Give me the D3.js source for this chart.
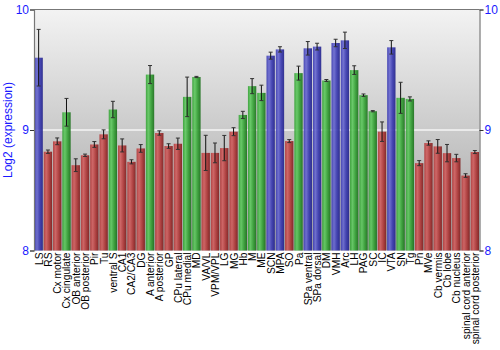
<!DOCTYPE html>
<html>
<head>
<meta charset="utf-8">
<script src="https://cdn.jsdelivr.net/npm/d3@7/dist/d3.min.js"></script>
<style>
  html, body { margin: 0; padding: 0; background: #ffffff; }
  svg { display: block; font-family: "Liberation Sans", Arial, sans-serif; }
</style>
</head>
<body>
<svg id="chart" width="500" height="350"></svg>
<script>
// Brain regions, mean log2 expression, error (±) and tissue group
const regions = ["LS","RS","Cx motor","Cx cingulate","OB anterior","OB posterior","Pir","Tu",
  "ventral S","CA1","CA2/CA3","DG","A anterior","A posterior","GP","CPu lateral","CPu medial",
  "MD","VA/VL","VPM/VPL","LG","MG","Hb","M","ME","SCN","MPA","SO","Pa","SPa ventral",
  "SPa dorsal","DM","VMH","Arc","LH","PAG","SC","IC","VTA","SN","Tg","Pn","MVe","Cb vermis",
  "Cb lobe","Cb nucleus","spinal cord anterior","spinal cord posterior"];

const expression = [9.60,8.82,8.906,9.147,8.708,8.79,8.88,8.964,
  9.17,8.872,8.736,8.847,9.46,8.975,8.867,8.886,9.275,
  9.44,8.81,8.81,8.85,8.986,9.125,9.364,9.308,9.617,9.669,8.908,9.472,9.678,
  9.692,9.411,9.722,9.744,9.497,9.289,9.156,8.986,9.686,9.267,9.258,8.725,8.892,8.864,
  8.808,8.767,8.622,8.817];

const errors = [0.235,0.014,0.028,0.115,0.053,0.01,0.024,0.037,
  0.068,0.054,0.017,0.032,0.075,0.018,0.019,0.047,0.164,
  0.005,0.146,0.082,0.105,0.033,0.03,0.0625,0.064,0.029,0.022,0.0125,0.058,0.056,
  0.028,0.008,0.031,0.068,0.036,0.01,0.005,0.081,0.056,0.129,0.017,0.021,0.018,0.057,
  0.072,0.031,0.015,0.0125];

const groups = ["b","r","r","g","r","r","r","r",
  "g","r","r","r","g","r","r","r","g",
  "g","r","r","r","r","g","g","g","b","b","r","g","b",
  "b","g","b","b","g","g","g","r","b","g","g","r","r","r",
  "r","r","r","r"];

const yTicks = [8, 9, 10];

const palette = {
  b: { dark: "#23238a", mid: "#3a3ab0", light: "#6a6ad0" },
  r: { dark: "#7e1e1e", mid: "#b03a3a", light: "#d06060" },
  g: { dark: "#1c701c", mid: "#35a035", light: "#60c860" }
};

const svg = d3.select("#chart");
const margin = { left: 34, right: 20.5, top: 9.5, bottom: 99.5 };
const W = 500, H = 350;

const x = d3.scaleBand().domain(regions)
  .range([margin.left, W - margin.right]).paddingInner(0.1).paddingOuter(0.05);
const y = d3.scaleLinear().domain([8, 10]).range([H - margin.bottom, margin.top]);

const defs = svg.append("defs");
const bg = defs.append("linearGradient").attr("id", "bgGrad")
  .attr("x1", 0).attr("y1", 0).attr("x2", 0).attr("y2", 1);
bg.append("stop").attr("offset", "0%").attr("stop-color", "#f3f3f3");
bg.append("stop").attr("offset", "100%").attr("stop-color", "#a2a2a2");

Object.entries(palette).forEach(([k, c]) => {
  const g = defs.append("linearGradient").attr("id", "bar-" + k)
    .attr("x1", 0).attr("y1", 0).attr("x2", 1).attr("y2", 0);
  g.append("stop").attr("offset", "0%").attr("stop-color", c.mid);
  g.append("stop").attr("offset", "30%").attr("stop-color", c.light);
  g.append("stop").attr("offset", "65%").attr("stop-color", c.mid);
  g.append("stop").attr("offset", "100%").attr("stop-color", c.dark);
});

// plot background
svg.append("rect")
  .attr("x", margin.left).attr("y", margin.top)
  .attr("width", W - margin.right - margin.left)
  .attr("height", y(8) - margin.top)
  .attr("fill", "url(#bgGrad)");

// grid line at 9
svg.append("line")
  .attr("x1", margin.left).attr("x2", W - margin.right)
  .attr("y1", y(9)).attr("y2", y(9))
  .attr("stroke", "#f4f4f4").attr("stroke-width", 1.5);

const data = regions.map((r, i) => ({ r, v: expression[i], e: errors[i], g: groups[i] }));

// bars
svg.append("g").selectAll("rect").data(data).join("rect")
  .attr("x", d => x(d.r))
  .attr("width", x.bandwidth())
  .attr("y", d => y(d.v))
  .attr("height", d => y(8) - y(d.v))
  .attr("fill", d => `url(#bar-${d.g})`)
  .attr("fill-opacity", 0.92);

// error bars
const eb = svg.append("g").attr("stroke", "#111").attr("stroke-width", 1);
data.forEach(d => {
  const cx = x(d.r) + x.bandwidth() / 2;
  const y1 = y(d.v + d.e), y2 = y(d.v - d.e);
  eb.append("line").attr("x1", cx).attr("x2", cx).attr("y1", y1).attr("y2", y2);
  [y1, y2].forEach(yy => eb.append("line")
    .attr("x1", cx - 2).attr("x2", cx + 2).attr("y1", yy).attr("y2", yy)
    .attr("stroke", "#333"));
});

// frame: top and side axes
svg.append("line").attr("x1", margin.left).attr("x2", W - margin.right)
  .attr("y1", margin.top).attr("y2", margin.top).attr("stroke", "#777").attr("stroke-width", 1.2);

const leftAxis = d3.axisLeft(y).tickValues(yTicks).tickFormat(d3.format("d")).tickSize(4).tickPadding(1);
const rightAxis = d3.axisRight(y).tickValues(yTicks).tickFormat(d3.format("d")).tickSize(4).tickPadding(1);

function styleAxis(g) {
  g.select(".domain").attr("stroke", "#777").attr("stroke-width", 1.2);
  g.selectAll(".tick line").attr("stroke", "#333");
  g.selectAll(".tick text").attr("fill", "#1a1aff").attr("font-size", 12)
    .attr("font-family", "'Liberation Sans', Arial, sans-serif");
}
svg.append("g").attr("transform", `translate(${margin.left},0)`).call(leftAxis).call(styleAxis);
svg.append("g").attr("transform", `translate(${W - margin.right},0)`).call(rightAxis).call(styleAxis);

// y title
svg.append("text")
  .attr("transform", `translate(12,${(margin.top + y(8)) / 2}) rotate(-90)`)
  .attr("text-anchor", "middle")
  .attr("fill", "#1a1aff").attr("font-size", 12)
  .text("Log2 (expression)");

// category labels
svg.append("g").selectAll("text").data(regions).join("text")
  .attr("transform", d => `translate(${x(d) + x.bandwidth() / 2 + 4},${y(8) + 2}) rotate(-90)`)
  .attr("text-anchor", "end")
  .attr("font-size", 10.2)
  .attr("fill", "#000")
  .text(d => d);
</script>
</body>
</html>
